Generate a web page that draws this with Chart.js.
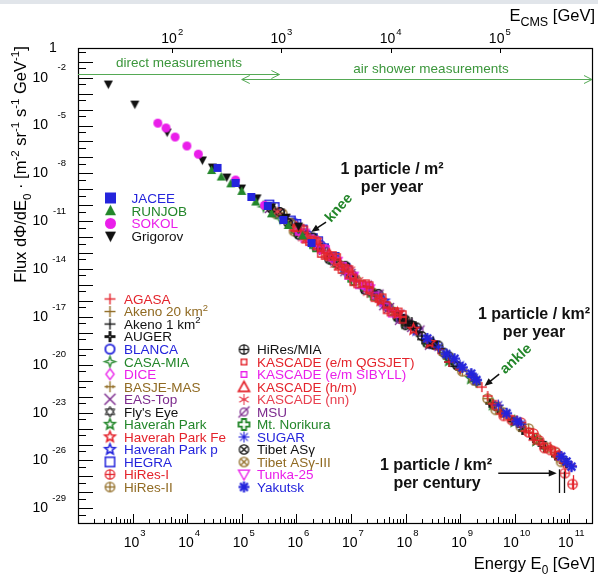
<!DOCTYPE html>
<html lang="es">
<head>
<meta charset="utf-8">
<title>Espectro de rayos cósmicos</title>
<script src="https://cdn.jsdelivr.net/npm/chart.js@4.4.1/dist/chart.umd.min.js"></script>
<style>
  html, body { margin: 0; padding: 0; background: #fff; }
  #grafica { display: block; }
</style>
</head>
<body>
<canvas id="grafica" width="598" height="574"></canvas>
<script>
// flujo diferencial [m^-2 sr^-1 s^-1 GeV^-1] contra energia E0 [GeV], pares [E, flujo]

// medidas directas
const JACEE = [[3.6e4, 2.2e-9], [7.7e4, 2.5e-10], [1.5e5, 3.3e-11], [3.0e5, 9.0e-12], [5.8e5, 1.2e-12], [1.9e6, 4.3e-14]]
const RUNJOB = [[2.8e4, 1.5e-9], [4.2e4, 5.9e-10], [6.3e4, 2.2e-10], [1.0e5, 7.4e-11], [1.8e5, 1.6e-11], [3.5e5, 2.9e-12], [7.1e5, 5.4e-13], [1.3e6, 1.2e-13]]
const SOKOL = [[2.9e3, 1.4e-6], [4.1e3, 7.0e-7], [6.0e3, 1.9e-7], [9.9e3, 5.2e-8], [1.6e4, 1.6e-8], [7.7e4, 3.8e-10], [2.6e5, 1.0e-11]]
const GRIGOROV = [[3.6e2, 4.0e-4], [1.1e3, 2.2e-5], [4.3e3, 3.9e-7], [1.9e4, 6.9e-9], [2.9e4, 2.5e-9], [5.3e4, 5.9e-10], [9.9e4, 1.2e-10], [1.9e5, 2.9e-11], [3.5e5, 7.8e-12], [6.5e5, 1.8e-12], [1.1e6, 5.0e-13]]

// cascadas atmosfericas
const AGASA = [[4.0e8, 9.1e-21], [6.3e8, 1.5e-21], [1.0e9, 5.4e-22], [1.6e9, 2.0e-22], [2.5e9, 4.0e-23], [3.2e9, 1.1e-23], [4.0e9, 3.5e-24], [5.6e9, 8.7e-25], [7.9e9, 6.0e-25], [1.1e10, 3.3e-25], [1.6e10, 7.1e-26], [2.2e10, 1.9e-26], [3.2e10, 1.2e-26], [4.5e10, 7.3e-27], [6.3e10, 2.2e-27], [7.9e10, 6.7e-28], [1.1e11, 4.6e-28]]
const AKENO_20 = [[5.0e8, 4.1e-21], [1.0e9, 4.8e-22], [2.0e9, 7.1e-23], [4.0e9, 3.2e-24], [7.9e9, 4.2e-25]]
const AKENO_1 = [[4.0e6, 7.1e-15], [1.0e7, 4.2e-16], [2.5e7, 3.5e-17], [6.3e7, 2.1e-18], [1.0e8, 6.0e-19], [1.3e8, 4.8e-19], [1.6e8, 1.1e-19], [2.0e8, 3.9e-20], [2.5e8, 3.5e-20], [3.2e8, 2.9e-20], [4.0e8, 1.0e-20], [6.3e8, 1.5e-21], [1.0e9, 6.1e-22], [1.6e9, 2.5e-22]]
const AUGER = [[3.5e9, 3.9e-24], [5.6e9, 9.7e-25], [8.9e9, 3.1e-25], [1.4e10, 7.7e-26], [2.2e10, 2.4e-26], [3.5e10, 6.1e-27], [5.6e10, 1.9e-27], [8.9e10, 6.1e-28]]
const BLANCA = [[8.9e5, 8.2e-13], [1.6e6, 1.4e-13], [2.8e6, 3.1e-14], [5.0e6, 4.5e-15], [8.9e6, 9.3e-16]]
const CASA_MIA = [[2.5e5, 8.2e-12], [5.0e5, 1.5e-12], [1.0e6, 1.9e-13], [2.0e6, 3.4e-14], [4.0e6, 5.0e-15], [7.9e6, 5.8e-16], [1.6e7, 6.8e-17], [3.2e7, 1.1e-17], [6.3e7, 1.3e-18]]
const DICE = [[1.1e6, 2.5e-13], [2.2e6, 4.9e-14], [4.5e6, 4.5e-15], [8.9e6, 8.3e-16], [1.8e7, 8.6e-17], [3.5e7, 9.0e-18]]
const BASJE_MAS = [[4.0e5, 3.9e-12], [7.9e5, 5.0e-13], [1.6e6, 1.1e-13], [3.2e6, 1.2e-14], [6.3e6, 2.3e-15]]
const EAS_TOP = [[3.2e5, 6.3e-12], [6.3e5, 1.4e-12], [1.3e6, 1.5e-13], [2.5e6, 2.8e-14], [5.0e6, 3.2e-15], [1.0e7, 5.3e-16], [2.0e7, 9.8e-17], [4.0e7, 5.1e-18], [7.9e7, 1.5e-18], [1.3e8, 2.2e-19]]
const FLYS_EYE = [[1.3e8, 2.7e-19], [3.2e8, 2.0e-20], [7.9e8, 1.1e-21], [2.0e9, 7.9e-23], [5.0e9, 1.9e-24], [1.3e10, 1.7e-25], [3.2e10, 1.1e-26], [7.9e10, 9.4e-28]]
const HAVERAH = [[1.0e8, 4.2e-19], [2.5e8, 3.2e-20], [6.3e8, 1.9e-21], [1.6e9, 1.4e-22], [4.0e9, 3.2e-24], [1.0e10, 2.8e-25], [2.5e10, 1.8e-26]]
const HAVERAH_FE = [[3.5e7, 1.1e-17], [7.1e7, 1.7e-18], [1.4e8, 1.7e-19], [2.8e8, 2.5e-20]]
const HAVERAH_P = [[4.0e7, 1.0e-17], [7.9e7, 1.1e-18], [1.6e8, 1.5e-19], [3.2e8, 2.3e-20]]
const HEGRA = [[3.2e5, 1.1e-11], [4.0e5, 7.7e-12], [5.0e5, 3.0e-12], [7.9e5, 1.1e-12], [1.0e6, 6.8e-13], [1.3e6, 3.0e-13], [2.0e6, 8.6e-14], [2.5e6, 5.5e-14], [3.2e6, 2.0e-14], [5.0e6, 5.7e-15], [7.9e6, 1.2e-15]]
const HIRES_1 = [[4.5e9, 2.9e-24], [6.3e9, 6.3e-25], [8.9e9, 3.4e-25], [1.3e10, 2.4e-25], [1.8e10, 5.8e-26], [2.2e10, 4.9e-26], [2.8e10, 1.8e-26], [3.5e10, 6.1e-27], [4.5e10, 4.6e-27], [5.6e10, 3.4e-27], [6.3e10, 2.0e-27], [8.3e10, 1.6e-28], [1.15e11, 3.3e-29]]
const HIRES_2 = [[1.1e9, 3.9e-22], [1.8e9, 1.1e-22], [3.2e9, 7.5e-24], [4.5e9, 1.5e-24], [6.3e9, 1.0e-24], [1.3e10, 1.3e-25], [1.8e10, 1.0e-25], [2.5e10, 2.5e-26], [4.0e10, 6.3e-27], [5.6e10, 3.1e-27], [7.1e10, 8.2e-28]]
const HIRES_MIA = [[8.9e7, 7.5e-19], [1.0e8, 3.0e-19], [1.3e8, 3.0e-19], [1.6e8, 2.2e-19], [2.0e8, 6.2e-20], [2.5e8, 2.2e-20], [3.2e8, 1.8e-20], [4.0e8, 1.6e-20], [5.0e8, 5.8e-21], [6.3e8, 3.3e-21], [8.9e8, 8.5e-22]]
const KASCADE_QGS = [[1.0e6, 3.8e-13], [1.2e6, 3.9e-13], [1.4e6, 1.2e-13], [1.4e6, 3.1e-13], [1.7e6, 4.9e-14], [2.0e6, 6.8e-14], [2.4e6, 5.8e-14], [2.8e6, 2.0e-14], [2.8e6, 8.8e-15], [3.3e6, 6.6e-15], [4.0e6, 5.6e-15], [4.7e6, 7.6e-15], [5.6e6, 2.9e-15], [5.6e6, 5.7e-15], [6.7e6, 8.7e-16], [7.9e6, 1.2e-15], [9.4e6, 9.9e-16], [1.1e7, 3.0e-16], [1.1e7, 1.5e-16], [1.3e7, 1.1e-16], [1.6e7, 1.2e-16], [1.9e7, 1.3e-16], [2.2e7, 4.9e-17], [2.2e7, 9.8e-17], [2.7e7, 1.5e-17], [3.2e7, 1.3e-17], [3.8e7, 1.7e-17], [4.5e7, 5.7e-18], [4.5e7, 2.6e-18], [5.3e7, 1.9e-18], [6.3e7, 2.3e-18], [7.5e7, 2.2e-18], [8.9e7, 6.7e-19], [8.9e7, 1.5e-18]]
const KASCADE_SIB = [[1.1e6, 2.2e-13], [1.4e6, 7.7e-14], [1.8e6, 8.4e-14], [2.2e6, 6.9e-14], [2.8e6, 1.6e-14], [3.5e6, 1.8e-14], [4.5e6, 5.1e-15], [7.1e6, 1.6e-15], [8.9e6, 3.7e-16], [1.1e7, 3.0e-16], [1.4e7, 9.6e-17], [1.8e7, 9.7e-17], [2.2e7, 7.8e-17], [2.8e7, 2.2e-17], [4.5e7, 4.6e-18], [5.6e7, 1.6e-18], [7.1e7, 1.5e-18]]
const KASCADE_HM = [[1.0e6, 4.3e-13], [1.6e6, 8.1e-14], [2.5e6, 3.1e-14], [4.0e6, 8.9e-15], [6.3e6, 1.6e-15], [1.0e7, 4.7e-16]]
const KASCADE_NN = [[4.5e5, 4.0e-12], [8.9e5, 3.7e-13], [1.3e6, 8.3e-14], [1.8e6, 9.5e-14], [2.5e6, 6.2e-14], [3.5e6, 8.9e-15], [5.0e6, 1.8e-15], [7.1e6, 1.5e-15], [1.0e7, 9.4e-16], [1.4e7, 2.1e-16], [2.0e7, 3.1e-17]]
const MSU = [[1.3e6, 1.3e-13], [3.2e6, 1.6e-14], [7.9e6, 7.4e-16], [2.0e7, 6.2e-17], [3.2e7, 2.5e-17], [5.0e7, 3.6e-18], [7.9e7, 6.6e-19], [1.1e8, 3.8e-19], [1.8e8, 1.4e-19], [2.8e8, 1.8e-20]]
const NORIKURA = [[1.0e6, 2.7e-13], [2.2e6, 2.7e-14], [5.0e6, 2.9e-15], [1.1e7, 2.1e-16], [2.5e7, 2.5e-17]]
const SUGAR = [[4.0e8, 1.3e-20], [1.0e9, 9.6e-22], [1.8e9, 1.6e-22], [5.0e9, 3.0e-24], [1.3e10, 1.9e-25]]
const TIBET = [[3.5e5, 5.9e-12], [5.0e5, 3.8e-12], [7.1e5, 7.6e-13], [1.1e6, 1.4e-13], [1.4e6, 1.7e-13], [2.0e6, 9.6e-14], [2.8e6, 2.0e-14], [4.0e6, 4.0e-15], [5.6e6, 2.3e-15], [7.9e6, 1.6e-15], [1.1e7, 3.8e-16], [1.8e7, 4.9e-17], [2.2e7, 4.4e-17], [3.2e7, 2.8e-17], [4.5e7, 4.6e-18], [7.1e7, 9.3e-19], [1.0e8, 6.7e-19]]
const TIBET_III = [[4.0e5, 3.1e-12], [5.6e5, 3.1e-12], [7.9e5, 7.9e-13], [8.9e5, 2.3e-13], [1.6e6, 9.1e-14], [3.2e6, 1.8e-14], [6.3e6, 1.8e-15], [1.3e7, 1.9e-16], [2.5e7, 3.5e-17], [5.0e7, 4.1e-18], [1.0e8, 4.8e-19]]
const TUNKA = [[1.4e6, 1.7e-13], [2.8e6, 1.8e-14], [5.6e6, 2.9e-15], [1.1e7, 3.4e-16], [2.2e7, 5.5e-17]]
const YAKUTSK = [[2.5e8, 4.5e-20], [5.6e8, 4.7e-21], [7.9e8, 2.4e-21], [1.1e9, 6.9e-22], [1.6e9, 2.8e-22], [2.0e9, 1.1e-22], [7.1e9, 9.2e-25], [1.1e10, 2.9e-25], [7.1e10, 1.8e-27], [8.9e10, 8.6e-28], [1.1e11, 4.1e-28]]

// barras verticales al final del espectro: [E, flujo alto, flujo bajo]
const HIRES_1_BARRAS = [[8.3e10, 2.8e-28, 8.7e-29], [1.15e11, 1.2e-28, 1.4e-29]]
const LIMITES = [[6.6e10, 2.8e-28, 9.1e-30], [8.1e10, 2.0e-28, 9.1e-30]]

// ejes
const E_MIN = 1e2, E_MAX = 2.72e11
const FLUJO_MIN = 1.04e-31, FLUJO_MAX = 7.23e-2
const MASA_PROTON = 0.938
const EXP_X = [3, 4, 5, 6, 7, 8, 9, 10, 11]
const EXP_Y = [-2, -5, -8, -11, -14, -17, -20, -23, -26, -29]
const EXP_CMS = [2, 3, 4, 5]

const ROJO = '#e4232b', AZUL = '#2424dc', VERDE = '#23862a', MAGENTA = '#ea1eea'
const MARRON = '#906a22', MORADO = '#7c2a8d', NEGRO = '#111111', VERDE_FLECHA = '#55a955'
const FAMILIA = '"Liberation Sans", Arial, Helvetica, sans-serif'

function fuente(tam, peso) {
    return (peso ? peso + ' ' : '') + tam + 'px ' + FAMILIA
}

// dibuja un simbolo en un canvas pequeño, se usa como pointStyle
function marcador(tipo, color, t) {
    const c = document.createElement('canvas')
    const n = Math.ceil(t + 6)
    c.width = n
    c.height = n
    const g = c.getContext('2d')
    const m = n / 2, r = t / 2
    g.strokeStyle = color
    g.fillStyle = color
    g.lineWidth = 1.3
    const poli = (pts, llenar) => {
        g.beginPath()
        pts.forEach((p, i) => i ? g.lineTo(m + p[0], m + p[1]) : g.moveTo(m + p[0], m + p[1]))
        g.closePath()
        llenar ? g.fill() : g.stroke()
    }
    const raya = (x1, y1, x2, y2) => {
        g.beginPath(); g.moveTo(m + x1, m + y1); g.lineTo(m + x2, m + y2); g.stroke()
    }
    const aro = (rr) => { g.beginPath(); g.arc(m, m, rr, 0, Math.PI * 2); g.stroke() }
    const estrella = (puntas, rin) => {
        const pts = []
        for (let i = 0; i < puntas * 2; i++) {
            const a = -Math.PI / 2 + i * Math.PI / puntas
            const rr = i % 2 ? r * rin : r
            pts.push([rr * Math.cos(a), rr * Math.sin(a)])
        }
        return pts
    }
    switch (tipo) {
        case 'cuadrado': g.fillRect(m - r, m - r, t, t); break
        case 'trianguloArriba': poli([[0, -r * 1.1], [r, r * 0.8], [-r, r * 0.8]], true); break
        case 'trianguloAbajo': poli([[-r, -r * 0.8], [r, -r * 0.8], [0, r * 1.1]], true); break
        case 'circulo': g.beginPath(); g.arc(m, m, r, 0, Math.PI * 2); g.fill(); break
        case 'mas': g.lineWidth = 1.4; raya(-r, 0, r, 0); raya(0, -r, 0, r); break
        case 'masGrueso':
            g.lineWidth = 2.8; raya(-r, 0, r, 0); raya(0, -r, 0, r)
            g.fillStyle = '#fff'; g.fillRect(m - 0.6, m - 0.6, 1.2, 1.2); break
        case 'circuloAbierto': g.lineWidth = 1.8; aro(r * 0.85); break
        case 'estrella4': {
            const pts = []
            for (let i = 0; i < 8; i++) {
                const a = -Math.PI / 2 + i * Math.PI / 4
                const rr = i % 2 ? r * 0.35 : r
                pts.push([rr * Math.cos(a), rr * Math.sin(a)])
            }
            poli(pts, false); break
        }
        case 'rombo': poli([[0, -r], [r * 0.75, 0], [0, r], [-r * 0.75, 0]], false); break
        case 'basje':
            raya(-r, 0, r, 0); raya(0, -r, 0, r)
            raya(-r * 0.55, -r * 0.3, -r * 0.55, r * 0.3); raya(r * 0.55, -r * 0.3, r * 0.55, r * 0.3); break
        case 'equis': g.lineWidth = 1.4; raya(-r, -r, r, r); raya(-r, r, r, -r); break
        case 'hexagrama':
            g.lineWidth = 1
            poli([[0, -r], [r * 0.87, r * 0.5], [-r * 0.87, r * 0.5]], false)
            poli([[0, r], [r * 0.87, -r * 0.5], [-r * 0.87, -r * 0.5]], false); break
        case 'estrella5': g.lineWidth = 1.6; poli(estrella(5, 0.45), false); break
        case 'cuadradoAbierto': g.lineWidth = 1.5; g.strokeRect(m - r * 0.85, m - r * 0.85, r * 1.7, r * 1.7); break
        case 'circuloMas': aro(r * 0.85); raya(-r * 0.85, 0, r * 0.85, 0); raya(0, -r * 0.85, 0, r * 0.85); break
        case 'cuadradoChico': g.lineWidth = 1.4; g.strokeRect(m - r * 0.62, m - r * 0.62, r * 1.24, r * 1.24); break
        case 'trianguloAbierto': g.lineWidth = 1.7; poli([[0, -r], [r, r * 0.8], [-r, r * 0.8]], false); break
        case 'trianguloAbajoAbierto': poli([[-r, -r * 0.8], [r, -r * 0.8], [0, r]], false); break
        case 'copo':
            g.lineWidth = 1.1
            for (let i = 0; i < 3; i++) {
                const a = Math.PI / 2 + i * Math.PI / 3
                raya(-r * Math.cos(a), -r * Math.sin(a), r * Math.cos(a), r * Math.sin(a))
            }
            raya(-r * 0.4, 0, r * 0.4, 0); break
        case 'circuloBarra': aro(r * 0.7); raya(-r, r, r, -r); break
        case 'cruzAbierta': {
            const w = r * 0.38
            g.lineWidth = 1.8
            poli([[-w, -r], [w, -r], [w, -w], [r, -w], [r, w], [w, w], [w, r], [-w, r], [-w, w], [-r, w], [-r, -w], [-w, -w]], false); break
        }
        case 'asterisco':
            g.lineWidth = 1.1
            for (let i = 0; i < 4; i++) {
                const a = i * Math.PI / 4
                raya(-r * Math.cos(a), -r * Math.sin(a), r * Math.cos(a), r * Math.sin(a))
            }
            break
        case 'asteriscoGrueso':
            g.lineWidth = 2.2
            for (let i = 0; i < 4; i++) {
                const a = i * Math.PI / 4
                raya(-r * Math.cos(a), -r * Math.sin(a), r * Math.cos(a), r * Math.sin(a))
            }
            break
        case 'circuloEquis': {
            const k = r * 0.85 * 0.707
            aro(r * 0.85); raya(-k, -k, k, k); raya(-k, k, k, -k); break
        }
    }
    return c
}

function serie(etiqueta, puntos, tipo, color, t, tLeyenda) {
    return {
        label: etiqueta,
        data: puntos.map(p => ({ x: p[0], y: p[1] })),
        borderColor: color,
        backgroundColor: color,
        pointStyle: marcador(tipo, color, t),
        marcaLeyenda: marcador(tipo, color, tLeyenda || 11),
        pointRadius: 4,
        pointHoverRadius: 4,
        showLine: false
    }
}

// el primero queda encima
const series = [
    serie('JACEE', JACEE, 'cuadrado', AZUL, 8, 11),
    serie('RUNJOB', RUNJOB, 'trianguloArriba', VERDE, 9, 11),
    serie('SOKOL', SOKOL, 'circulo', MAGENTA, 9, 11),
    serie('Grigorov', GRIGOROV, 'trianguloAbajo', NEGRO, 9, 11),
    serie('Yakutsk', YAKUTSK, 'asteriscoGrueso', AZUL, 11),
    serie('SUGAR', SUGAR, 'asterisco', AZUL, 11),
    serie('HiRes-I', HIRES_1, 'circuloMas', ROJO, 11),
    serie('AGASA', AGASA, 'mas', ROJO, 10),
    serie('KASCADE (e/m QGSJET)', KASCADE_QGS, 'cuadradoChico', ROJO, 10, 9),
    serie('KASCADE (nn)', KASCADE_NN, 'copo', '#e84050', 10),
    serie('KASCADE (h/m)', KASCADE_HM, 'trianguloAbierto', ROJO, 10),
    serie('Haverah Park Fe', HAVERAH_FE, 'estrella5', ROJO, 11),
    serie('KASCADE (e/m SIBYLL)', KASCADE_SIB, 'cuadradoChico', MAGENTA, 10, 9),
    serie('Tunka-25', TUNKA, 'trianguloAbajoAbierto', MAGENTA, 10),
    serie('DICE', DICE, 'rombo', MAGENTA, 10),
    serie('HiRes-II', HIRES_2, 'circuloMas', MARRON, 11),
    serie('AUGER', AUGER, 'masGrueso', NEGRO, 9),
    serie('Akeno 20 km^{2}', AKENO_20, 'mas', MARRON, 10),
    serie("Fly's Eye", FLYS_EYE, 'hexagrama', NEGRO, 10),
    serie('HiRes/MIA', HIRES_MIA, 'circuloMas', NEGRO, 10),
    serie('Akeno 1 km^{2}', AKENO_1, 'mas', NEGRO, 10),
    serie('MSU', MSU, 'circuloBarra', MORADO, 10),
    serie('Tibet ASγ', TIBET, 'circuloEquis', NEGRO, 10),
    serie('Tibet ASγ-III', TIBET_III, 'circuloEquis', MARRON, 10),
    serie('EAS-Top', EAS_TOP, 'equis', MORADO, 9),
    serie('BASJE-MAS', BASJE_MAS, 'basje', MARRON, 10),
    serie('Mt. Norikura', NORIKURA, 'cruzAbierta', VERDE, 10),
    serie('CASA-MIA', CASA_MIA, 'estrella4', VERDE, 10),
    serie('Haverah Park', HAVERAH, 'estrella5', VERDE, 11),
    serie('Haverah Park p', HAVERAH_P, 'estrella5', AZUL, 11),
    serie('HEGRA', HEGRA, 'cuadradoAbierto', AZUL, 10),
    serie('BLANCA', BLANCA, 'circuloAbierto', AZUL, 10)
]

const LEYENDA = [
    { marca: 110.5, texto: 131.5, y0: 198, paso: 12.7, etiquetas: ['JACEE', 'RUNJOB', 'SOKOL', 'Grigorov'] },
    { marca: 110, texto: 124, y0: 299, paso: 12.53, etiquetas: ['AGASA', 'Akeno 20 km^{2}', 'Akeno 1 km^{2}', 'AUGER', 'BLANCA', 'CASA-MIA', 'DICE', 'BASJE-MAS', 'EAS-Top', "Fly's Eye", 'Haverah Park', 'Haverah Park Fe', 'Haverah Park p', 'HEGRA', 'HiRes-I', 'HiRes-II'] },
    { marca: 244, texto: 257, y0: 349.5, paso: 12.5, etiquetas: ['HiRes/MIA', 'KASCADE (e/m QGSJET)', 'KASCADE (e/m SIBYLL)', 'KASCADE (h/m)', 'KASCADE (nn)', 'MSU', 'Mt. Norikura', 'SUGAR', 'Tibet ASγ', 'Tibet ASγ-III', 'Tunka-25', 'Yakutsk'] }
]

// texto con ^{..} y _{..}
function partir(s) {
    const out = []
    let i = 0, buf = ''
    while (i < s.length) {
        const c = s[i]
        if ((c === '^' || c === '_') && s[i + 1] === '{') {
            if (buf) out.push([buf, 0])
            buf = ''
            const j = s.indexOf('}', i)
            out.push([s.slice(i + 2, j), c === '^' ? 1 : -1])
            i = j + 1
        } else {
            buf += c
            i++
        }
    }
    if (buf) out.push([buf, 0])
    return out
}

function rico(g, s, x, yMedio, tam, alinear, peso, escala) {
    const partes = partir(s)
    const esc = escala || 0.72
    let w = 0
    for (const [t, modo] of partes) {
        g.font = fuente(modo ? tam * esc : tam, peso)
        w += g.measureText(t).width
    }
    let cx = alinear === 'center' ? x - w / 2 : alinear === 'right' ? x - w : x
    const base = yMedio + tam * 0.36
    g.textAlign = 'left'
    g.textBaseline = 'alphabetic'
    for (const [t, modo] of partes) {
        g.font = fuente(modo ? tam * esc : tam, peso)
        const dy = modo === 1 ? -tam * 0.42 : modo === -1 ? tam * 0.3 : 0
        g.fillText(t, cx, base + dy)
        cx += g.measureText(t).width
    }
    return w
}

function linea(g, x1, y1, x2, y2) {
    g.beginPath(); g.moveTo(x1, y1); g.lineTo(x2, y2); g.stroke()
}

function flecha(g, x1, y1, x2, y2, punta) {
    const a = Math.atan2(y2 - y1, x2 - x1)
    const c = Math.cos(a), s = Math.sin(a)
    linea(g, x1, y1, x2 - c * punta * 0.8, y2 - s * punta * 0.8)
    g.beginPath()
    g.moveTo(x2, y2)
    g.lineTo(x2 - punta * c + punta * 0.42 * s, y2 - punta * s - punta * 0.42 * c)
    g.lineTo(x2 - punta * c - punta * 0.42 * s, y2 - punta * s + punta * 0.42 * c)
    g.closePath()
    g.fill()
}

function chevron(g, x, y, dir, l) {
    g.beginPath()
    g.moveTo(x - dir * l, y - l * 0.5)
    g.lineTo(x, y)
    g.lineTo(x - dir * l, y + l * 0.5)
    g.stroke()
}

const marco = {
    id: 'marco',
    beforeDraw(chart) {
        const g = chart.ctx
        g.save()
        g.fillStyle = '#fff'
        g.fillRect(0, 0, chart.width, chart.height)
        g.fillStyle = '#e1e5ea'
        g.fillRect(0, 0, chart.width, 4)
        g.restore()
    },
    beforeDatasetsDraw(chart) {
        const g = chart.ctx, a = chart.chartArea
        const ex = chart.scales.x, ey = chart.scales.y, ec = chart.scales.xCms
        g.save()
        g.strokeStyle = '#000'
        g.lineWidth = 1
        // marcas abajo
        for (let n = 2; n <= 11; n++) {
            for (let k = 1; k <= 9; k++) {
                const v = k * Math.pow(10, n)
                if (v < E_MIN || v > E_MAX) continue
                const px = Math.round(ex.getPixelForValue(v)) + 0.5
                linea(g, px, a.bottom, px, a.bottom - (k === 1 ? 10 : k === 5 ? 7 : 5))
            }
        }
        // marcas izquierda
        for (let n = -31; n <= 0; n++) {
            const largo = Math.pow(10, n), corto = 0.4 * Math.pow(10, n)
            if (largo >= FLUJO_MIN && largo <= FLUJO_MAX) {
                const py = Math.round(ey.getPixelForValue(largo)) + 0.5
                linea(g, a.left, py, a.left + 15, py)
            }
            if (corto >= FLUJO_MIN && corto <= FLUJO_MAX) {
                const py = Math.round(ey.getPixelForValue(corto)) + 0.5
                linea(g, a.left, py, a.left + 8, py)
            }
        }
        // marcas arriba, energia en el centro de masas
        EXP_CMS.forEach(n => {
            const px = Math.round(ec.getPixelForValue(Math.pow(10, n))) + 0.5
            linea(g, px, a.top, px, a.top + 5)
        })
        g.lineWidth = 1.2
        g.strokeRect(a.left + 0.5, a.top + 0.5, a.right - a.left - 1, a.bottom - a.top - 1)
        g.restore()
    },
    afterDatasetsDraw(chart) {
        const g = chart.ctx, a = chart.chartArea
        const ex = chart.scales.x, ey = chart.scales.y, ec = chart.scales.xCms
        const X = v => ex.getPixelForValue(v), Y = v => ey.getPixelForValue(v)
        g.save()

        // barras del final
        g.lineWidth = 1.3
        g.strokeStyle = NEGRO
        LIMITES.forEach(b => linea(g, Math.round(X(b[0])) + 0.5, Y(b[1]), Math.round(X(b[0])) + 0.5, Y(b[2])))
        g.strokeStyle = ROJO
        HIRES_1_BARRAS.forEach(b => linea(g, Math.round(X(b[0])) + 0.5, Y(b[1]), Math.round(X(b[0])) + 0.5, Y(b[2])))

        // rotulos de ejes
        g.fillStyle = '#000'
        g.textBaseline = 'middle'
        EXP_X.forEach(n => {
            const cx = X(Math.pow(10, n)) + 2
            g.font = fuente(14)
            const w10 = g.measureText('10').width
            g.font = fuente(9.5)
            const we = g.measureText(String(n)).width
            const x0 = cx - (w10 + 1 + we) / 2
            g.textAlign = 'left'
            g.font = fuente(14)
            g.fillText('10', x0, 543)
            g.font = fuente(9.5)
            g.fillText(String(n), x0 + w10 + 1, 533)
        })
        EXP_CMS.forEach(n => {
            const cx = ec.getPixelForValue(Math.pow(10, n))
            g.font = fuente(14)
            const w10 = g.measureText('10').width
            g.font = fuente(9.5)
            const we = g.measureText(String(n)).width
            const x0 = cx - (w10 + 1 + we) / 2
            g.textAlign = 'left'
            g.font = fuente(14)
            g.fillText('10', x0, 39)
            g.font = fuente(9.5)
            g.fillText(String(n), x0 + w10 + 1, 32)
        })
        EXP_Y.forEach(n => {
            const py = Y(Math.pow(10, n))
            g.textAlign = 'right'
            g.font = fuente(14)
            g.fillText('10', 48, py + 16)
            g.font = fuente(9.5)
            g.fillText(String(n), 66, py + 6)
        })
        g.textAlign = 'center'
        g.font = fuente(14)
        g.fillText('1', 53, 48)

        // titulos
        g.fillStyle = '#000'
        rico(g, 'E_{CMS} [GeV]', 595, 15, 16.5, 'right', '', 0.76)
        rico(g, 'Energy E_{0} [GeV]', 595, 563, 16.5, 'right', '', 0.72)
        g.save()
        g.translate(20, 164.5)
        g.rotate(-Math.PI / 2)
        rico(g, 'Flux dΦ/dE_{0} · [m^{-2} sr^{-1} s^{-1} GeV^{-1}]', 0, 0, 16.5, 'center', '', 0.7)
        g.restore()

        // rangos de medida
        g.strokeStyle = VERDE_FLECHA
        g.lineWidth = 1
        const yDir = Math.round(Y(1.7e-3)) + 0.5, yAir = Math.round(Y(8.2e-4)) + 0.5
        const xDirFin = X(4.9e5), xAirIni = X(1.0e5)
        linea(g, a.left, yDir, xDirFin, yDir)
        chevron(g, xDirFin, yDir, 1, 8)
        linea(g, xAirIni, yAir, a.right - 1, yAir)
        chevron(g, xAirIni, yAir, -1, 8)
        chevron(g, a.right - 1, yAir, 1, 8)
        g.fillStyle = '#3b963b'
        g.textAlign = 'center'
        g.textBaseline = 'middle'
        g.font = fuente(13.5)
        g.fillText('direct measurements', 179, 63)
        g.fillText('air shower measurements', 431, 69.5)

        // anotaciones
        g.fillStyle = '#111'
        g.font = fuente(16, 'bold')
        g.fillText('1 particle / m²', 392, 170)
        g.fillText('per year', 392, 188)
        g.fillText('1 particle / km²', 534, 315)
        g.fillText('per year', 534, 333)
        g.fillText('1 particle / km²', 436, 466)
        g.fillText('per century', 437, 484)

        g.strokeStyle = '#111'
        g.lineWidth = 1.5
        flecha(g, X(3.5e6), Y(8.9e-13), X(1.87e6), Y(2.1e-13), 8)
        flecha(g, X(5.2e9), Y(2.6e-22), X(2.8e9), Y(4.7e-23), 8)
        flecha(g, X(5.0e9), Y(1.6e-28), X(5.9e10), Y(1.6e-28), 8)

        g.fillStyle = '#23862a'
        g.font = fuente(14.5, 'bold')
        g.save()
        g.translate(339, 208)
        g.rotate(-48 * Math.PI / 180)
        g.fillText('knee', 0, 0)
        g.restore()
        g.save()
        g.translate(516, 359)
        g.rotate(-42 * Math.PI / 180)
        g.fillText('ankle', 0, 0)
        g.restore()

        // leyendas
        LEYENDA.forEach(grupo => {
            grupo.etiquetas.forEach((et, i) => {
                const ds = chart.data.datasets.find(d => d.label === et)
                const y = grupo.y0 + i * grupo.paso
                const im = ds.marcaLeyenda
                g.drawImage(im, grupo.marca - im.width / 2, y - im.height / 2)
                g.fillStyle = ds.borderColor
                rico(g, et, grupo.texto, y, 13.5, 'left', '', 0.7)
            })
        })
        g.restore()
    }
}

const grafica = new Chart(document.getElementById('grafica'), {
    type: 'scatter',
    data: { datasets: series },
    options: {
        responsive: false,
        animation: false,
        devicePixelRatio: 1,
        events: [],
        layout: { padding: { left: 78, top: 48, right: 2, bottom: 50 } },
        plugins: { legend: { display: false }, tooltip: { enabled: false } },
        scales: {
            x: { type: 'logarithmic', min: E_MIN, max: E_MAX, display: false },
            xCms: {
                type: 'logarithmic', axis: 'x', position: 'top', display: false,
                min: Math.sqrt(2 * MASA_PROTON * E_MIN), max: Math.sqrt(2 * MASA_PROTON * E_MAX)
            },
            y: { type: 'logarithmic', min: FLUJO_MIN, max: FLUJO_MAX, display: false }
        }
    },
    plugins: [marco]
})
</script>
</body>
</html>
